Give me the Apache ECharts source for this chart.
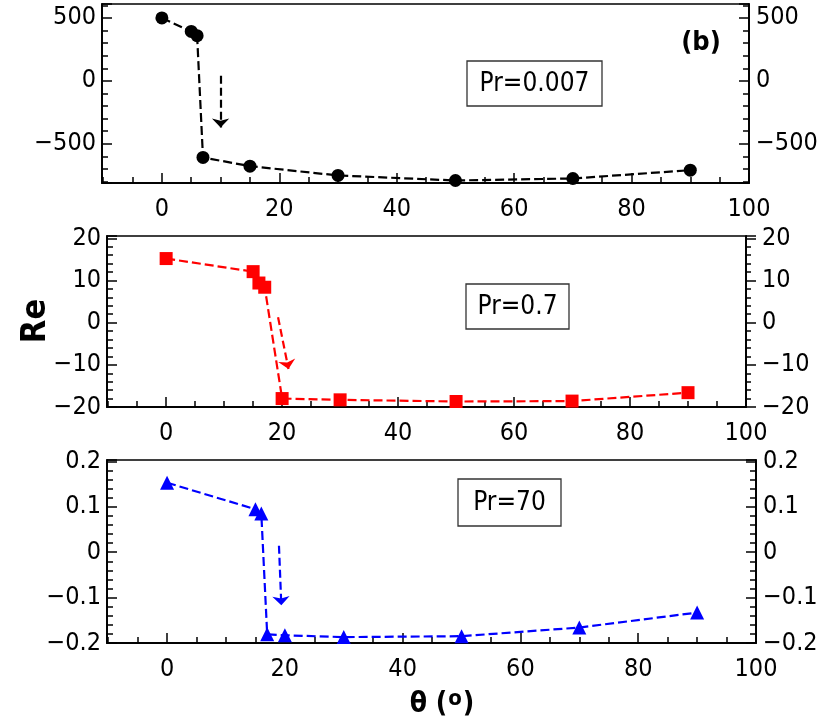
<!DOCTYPE html>
<html><head><meta charset="utf-8">
<script src="https://cdn.jsdelivr.net/npm/echarts@6/dist/echarts.min.js"></script>
<style>html,body{margin:0;padding:0;background:#fff}#c{width:830px;height:727px}</style>
</head><body><div id="c"></div>
<script>
// ---- data ----
const theta1 = [0, 5, 6, 7, 15, 30, 50, 70, 90];
const re1 = [500, 393, 359, -609, -678, -752, -792, -776, -710];
const theta2 = [0, 15, 16, 17, 20, 30, 50, 70, 90];
const re2 = [15.2, 12.1, 9.4, 8.4, -18.0, -18.3, -18.7, -18.6, -16.6];
const theta3 = [0, 15, 16, 17, 20, 30, 50, 70, 90];
const re3 = [0.153, 0.0945, 0.085, -0.181, -0.183, -0.187, -0.185, -0.166, -0.133];
const xTicks = [0, 20, 40, 60, 80, 100];
const yTicks1 = [-500, 0, 500];
const yTicks2 = [-20, -10, 0, 10, 20];
const yTicks3 = [-0.2, -0.1, 0, 0.1, 0.2];
const arrow1 = [[10, 40], [10, -370]];
const arrow2 = [[19.3, 1.3], [21.1, -11.0]];
const arrow3 = [[19.0, 0.014], [19.4, -0.117]];
const prLabels = ['Pr=0.007', 'Pr=0.7', 'Pr=70'];

const FONT = '"DejaVu Sans Condensed", "DejaVu Sans", sans-serif';
const AX = { color: '#000', width: 1.5 };
const FS = 25;

function fmt(v, dec) {
  if (Math.abs(v) < 1e-12) return '0';
  return (v < 0 ? '\u2212' : '') + Math.abs(v).toFixed(dec);
}
function labelFor(ticks, dec, tol) {
  return function (v) {
    for (const t of ticks) if (Math.abs(t - v) < tol) return fmt(t, dec);
    return '';
  };
}

const grids = [
  { left: 102, width: 647, top: 4, height: 179 },
  { left: 107, width: 639, top: 236, height: 171 },
  { left: 107, width: 649, top: 460, height: 183 }
];
const xMin = -10.2, xMax = 100;

const xAxis = [], yAxis = [];
grids.forEach((g, gi) => {
  xAxis.push({
    type: 'value', gridIndex: gi, position: 'bottom', min: xMin, max: xMax,
    minInterval: 5, maxInterval: 5,
    axisLine: { onZero: false, lineStyle: AX },
    axisTick: { inside: true, length: 6, lineStyle: AX },
    axisLabel: { show: false }, splitLine: { show: false }
  });
  xAxis.push({
    type: 'value', gridIndex: gi, position: 'bottom', min: xMin, max: xMax,
    minInterval: 20, maxInterval: 20,
    axisLine: { onZero: false, lineStyle: AX },
    axisTick: { inside: true, length: 10, lineStyle: AX },
    axisLabel: { margin: 14, fontSize: FS, fontFamily: FONT, color: '#000',
      formatter: labelFor(xTicks, 0, 1e-3) },
    splitLine: { show: false }
  });
});

const ySpec = [
  { min: -812, max: 611, minor: 100, major: 500, ticks: yTicks1, dec: 0, rightInside: true },
  { min: -20, max: 20.55, minor: 2, major: 10, ticks: yTicks2, dec: 0, rightInside: false },
  { min: -0.2, max: 0.203, minor: 0.02, major: 0.1, ticks: yTicks3, dec: 1, rightInside: true }
];
ySpec.forEach((s, gi) => {
  ['left', 'right'].forEach(pos => {
    const inside = pos === 'left' ? true : s.rightInside;
    const margin = pos === 'left' ? 6 : (inside ? 7 : 16);
    yAxis.push({
      type: 'value', gridIndex: gi, position: pos, min: s.min, max: s.max,
      minInterval: s.minor, maxInterval: s.minor,
      axisLine: { onZero: false, lineStyle: AX },
      axisTick: { inside: inside, length: inside ? 6 : 5, lineStyle: AX },
      axisLabel: { show: false }, splitLine: { show: false }
    });
    yAxis.push({
      type: 'value', gridIndex: gi, position: pos, min: s.min, max: s.max,
      minInterval: s.major, maxInterval: s.major,
      axisLine: { onZero: false, lineStyle: AX },
      axisTick: { inside: inside, length: 10, lineStyle: AX },
      axisLabel: { margin: margin, fontSize: FS, fontFamily: FONT, color: '#000',
        formatter: labelFor(s.ticks, s.dec, s.major * 1e-3) },
      splitLine: { show: false }
    });
  });
});

function mkSeries(gi, xs, ys, symbol, color, arrow, size) {
  return {
    type: 'line', xAxisIndex: gi * 2 + 1, yAxisIndex: gi * 4 + 1,
    data: xs.map((x, i) => [x, ys[i]]),
    symbol: symbol, symbolSize: size, showSymbol: true,
    lineStyle: { color: color, width: 2.2, type: [9, 4] },
    itemStyle: { color: color },
    z: 3,
    markLine: {
      silent: true, symbol: ['none', 'arrow'], symbolSize: [13, 9],
      label: { show: false },
      lineStyle: { color: color, width: 2.2, type: [8, 4] },
      data: [[{ coord: arrow[0] }, { coord: arrow[1] }]]
    }
  };
}

const boxes = [
  { x: 467, y: 61, w: 135, h: 45 },
  { x: 466, y: 284, w: 103, h: 45 },
  { x: 458, y: 479, w: 103, h: 47 }
];
const graphic = [];
boxes.forEach((b, i) => {
  graphic.push({ type: 'rect', z: 10, shape: { x: b.x, y: b.y, width: b.w, height: b.h },
    style: { fill: '#fff', stroke: '#333', lineWidth: 1.3 } });
  graphic.push({ type: 'text', z: 11, x: b.x + b.w / 2, y: b.y + b.h / 2 + 1,
    style: { text: prLabels[i], font: '26px ' + FONT, fill: '#000', align: 'center', verticalAlign: 'middle' } });
});
graphic.push({ type: 'text', z: 11, x: 701, y: 43,
  style: { text: '(b)', font: 'bold 27px ' + FONT, fill: '#000', align: 'center', verticalAlign: 'middle' } });
graphic.push({ type: 'text', z: 11, x: 36, y: 321, rotation: Math.PI / 2,
  style: { text: 'Re', font: 'bold 34px ' + FONT, fill: '#000', align: 'center', verticalAlign: 'middle' } });
graphic.push({ type: 'text', z: 11, x: 442, y: 705,
  style: {
    text: '{m|\u03B8 (}{s|o}{m|)}', align: 'center', verticalAlign: 'middle',
    rich: {
      m: { font: 'bold 28px ' + FONT, fill: '#000' },
      s: { font: 'bold 22px ' + FONT, fill: '#000', padding: [0, 1, 12, 1] }
    }
  } });

const chart = echarts.init(document.getElementById('c'), null, { renderer: 'canvas' });
chart.setOption({
  animation: false,
  backgroundColor: '#fff',
  grid: grids.map(g => Object.assign({ show: true, borderColor: '#000', borderWidth: 1.5, backgroundColor: 'transparent' }, g)),
  xAxis: xAxis,
  yAxis: yAxis,
  series: [
    mkSeries(0, theta1, re1, 'circle', '#000', arrow1, 13),
    mkSeries(1, theta2, re2, 'rect', '#ff0000', arrow2, 13),
    mkSeries(2, theta3, re3, 'triangle', '#0000ff', arrow3, 14)
  ],
  graphic: graphic
});
</script>
</body></html>
